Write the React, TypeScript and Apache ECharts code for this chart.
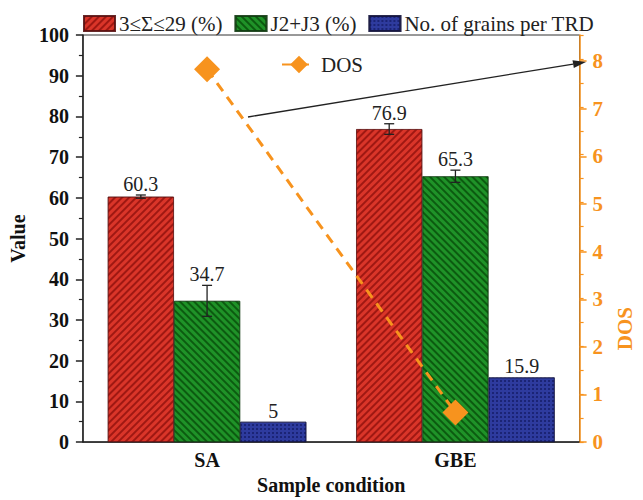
import React, { useEffect, useRef } from "react";
import * as echarts from "echarts";

const categories = ["SA", "GBE"];
const sigmaValues = [60.3, 76.9];
const sigmaErrors = [0.4, 1.3];
const jValues = [34.7, 65.3];
const jErrors = [3.8, 1.5];
const grainValues = [5, 15.9];
const grainErrors = [0, 0];
const dosValues = [7.83, 0.62];
const seriesNames = ["3≤Σ≤29 (%)", "J2+J3 (%)", "No. of grains per TRD"];

const FONT = "'Liberation Serif', 'Times New Roman', serif";
const ORANGE = "#f7931e";

export default function App() {
  const ref = useRef<HTMLDivElement>(null);
  useEffect(() => {
    document.body.style.margin = "0";
    if (!ref.current) return;
    const chart = echarts.init(ref.current, null, { renderer: "svg" });

    const errData: number[][] = [];
    [sigmaValues, jValues, grainValues].forEach((vals, k) => {
      const errs = [sigmaErrors, jErrors, grainErrors][k];
      vals.forEach((v, i) => errData.push([i, v, errs[i], k]));
    });

    const arrowStart = [248, 117];
    const arrowEnd = [586, 62];
    const ang = Math.atan2(arrowEnd[1] - arrowStart[1], arrowEnd[0] - arrowStart[0]);
    const hl = 13, hw = 4;
    const bx = arrowEnd[0] - hl * Math.cos(ang), by = arrowEnd[1] - hl * Math.sin(ang);
    const head = [
      arrowEnd,
      [bx + hw * Math.sin(ang), by - hw * Math.cos(ang)],
      [bx - hw * Math.sin(ang), by + hw * Math.cos(ang)],
    ];

    const stripe = (color: string, rot: number) => ({
      symbol: "rect",
      symbolSize: 1,
      dashArrayX: [1, 0],
      dashArrayY: [2, 2.5],
      rotation: rot,
      color,
    });

    const option: any = {
      animation: false,
      backgroundColor: "#fff",
      textStyle: { fontFamily: FONT },
      grid: { left: 78, right: 51, top: 35, bottom: 48, show: true, borderColor: "#333", borderWidth: 1 },
      legend: [
        {
          data: seriesNames,
          left: 78,
          top: 8,
          icon: "rect",
          itemWidth: 31,
          itemHeight: 15,
          itemGap: 12,
          textStyle: { fontFamily: FONT, fontSize: 21, color: "#222", padding: [0, 0, 0, -1] },
        },
        {
          data: ["DOS"],
          left: 276,
          top: 49,
          itemWidth: 34,
          itemHeight: 22,
          textStyle: { fontFamily: FONT, fontSize: 21, color: "#222" },
        },
      ],
      xAxis: {
        type: "category",
        data: categories,
        axisLine: { lineStyle: { color: "#222", width: 1.5 } },
        axisTick: { alignWithLabel: true, length: 7, lineStyle: { color: "#222", width: 1.5 } },
        axisLabel: { fontFamily: FONT, fontSize: 20, fontWeight: "bold", color: "#111", margin: 8 },
        name: "Sample condition",
        nameLocation: "middle",
        nameGap: 31,
        nameTextStyle: { fontFamily: FONT, fontSize: 20, fontWeight: "bold", color: "#111" },
      },
      yAxis: [
        {
          type: "value",
          min: 0,
          max: 100,
          interval: 10,
          axisLine: { show: true, lineStyle: { color: "#222", width: 1.5 } },
          axisTick: { show: true, length: 7, lineStyle: { color: "#222", width: 1.5 } },
          minorTick: { show: true, splitNumber: 2, length: 4, lineStyle: { color: "#222", width: 1.2 } },
          splitLine: { show: false },
          axisLabel: { fontFamily: FONT, fontSize: 20, fontWeight: "bold", color: "#111", margin: 14 },
          name: "Value",
          nameLocation: "middle",
          nameGap: 46,
          nameTextStyle: { fontFamily: FONT, fontSize: 20, fontWeight: "bold", color: "#111" },
        },
        {
          type: "value",
          position: "right",
          min: 0,
          max: 8.55,
          interval: 1,
          axisLine: { show: true, lineStyle: { color: ORANGE, width: 1.5 } },
          axisTick: { show: true, length: 7, lineStyle: { color: ORANGE, width: 1.5 } },
          splitLine: { show: false },
          axisLabel: { fontFamily: FONT, fontSize: 21, fontWeight: "bold", color: ORANGE, margin: 13, showMaxLabel: false },
          name: "DOS",
          nameLocation: "middle",
          nameGap: 26,
          nameTextStyle: { fontFamily: FONT, fontSize: 21, fontWeight: "bold", color: ORANGE, padding: [0, 180, 0, 0] },
        },
        {
          type: "value",
          position: "right",
          min: 0,
          max: 8.5,
          interval: 0.5,
          axisLine: { show: false },
          axisTick: { show: true, length: 4, lineStyle: { color: ORANGE, width: 1.2 } },
          axisLabel: { show: false },
          splitLine: { show: false },
        },
      ],
      series: [
        {
          name: seriesNames[0],
          type: "bar",
          data: sigmaValues,
          barGap: "0%",
          barCategoryGap: "20%",
          itemStyle: { color: "#da3529", borderColor: "rgba(90,20,20,0.7)", borderWidth: 0.8, decal: stripe("rgba(110,0,0,0.55)", -Math.PI / 4) },
        },
        {
          name: seriesNames[1],
          type: "bar",
          data: jValues,
          barGap: "0%",
          barCategoryGap: "20%",
          itemStyle: { color: "#1f9228", borderColor: "rgba(20,60,20,0.7)", borderWidth: 0.8, decal: stripe("rgba(0,55,0,0.6)", Math.PI / 4) },
        },
        {
          name: seriesNames[2],
          type: "bar",
          data: grainValues,
          barGap: "0%",
          barCategoryGap: "20%",
          itemStyle: {
            color: "#2e3b9e",
            borderColor: "rgba(20,20,60,0.7)",
            borderWidth: 0.8,
            decal: { symbol: "rect", symbolSize: 1, dashArrayX: [2, 2], dashArrayY: [2, 2], color: "rgba(15,20,90,0.6)" },
          },
        },
        {
          name: "errors",
          type: "custom",
          data: errData,
          encode: { x: 0, y: 1 },
          z: 5,
          silent: true,
          renderItem: (params: any, api: any) => {
            const ci = api.value(0), v = api.value(1), e = api.value(2), k = api.value(3);
            const band = api.size([1, 0])[0];
            const bw = (band * 0.8) / 3;
            const c = api.coord([ci, v]);
            const x = c[0] + (k - 1) * bw;
            const children: any[] = [];
            let topY = c[1];
            if (e > 0) {
              const t = api.coord([ci, v + e])[1];
              const b = api.coord([ci, v - e])[1];
              topY = t;
              const ls = { stroke: "#222", lineWidth: 1.3 };
              children.push({ type: "line", shape: { x1: x, y1: t, x2: x, y2: b }, style: ls });
              children.push({ type: "line", shape: { x1: x - 5, y1: t, x2: x + 5, y2: t }, style: ls });
              children.push({ type: "line", shape: { x1: x - 5, y1: b, x2: x + 5, y2: b }, style: ls });
            }
            children.push({
              type: "text",
              style: {
                x,
                y: topY - 1,
                text: String(v),
                fill: "#222",
                font: `20px ${FONT}`,
                align: "center",
                verticalAlign: "bottom",
              },
            });
            return { type: "group", children };
          },
        },
        {
          name: "DOS",
          type: "line",
          yAxisIndex: 1,
          data: dosValues,
          symbol: "diamond",
          symbolSize: 26,
          z: 6,
          lineStyle: { color: ORANGE, width: 3, type: [10, 7] },
          itemStyle: { color: ORANGE },
        },
      ],
      graphic: [
        {
          type: "line",
          shape: { x1: arrowStart[0], y1: arrowStart[1], x2: bx, y2: by },
          style: { stroke: "#222", lineWidth: 1.3 },
          z: 10,
        },
        {
          type: "polygon",
          shape: { points: head },
          style: { fill: "#222" },
          z: 10,
        },
      ],
    };
    chart.setOption(option);
    return () => chart.dispose();
  }, []);
  return <div ref={ref} style={{ width: 643, height: 500 }} />;
}
